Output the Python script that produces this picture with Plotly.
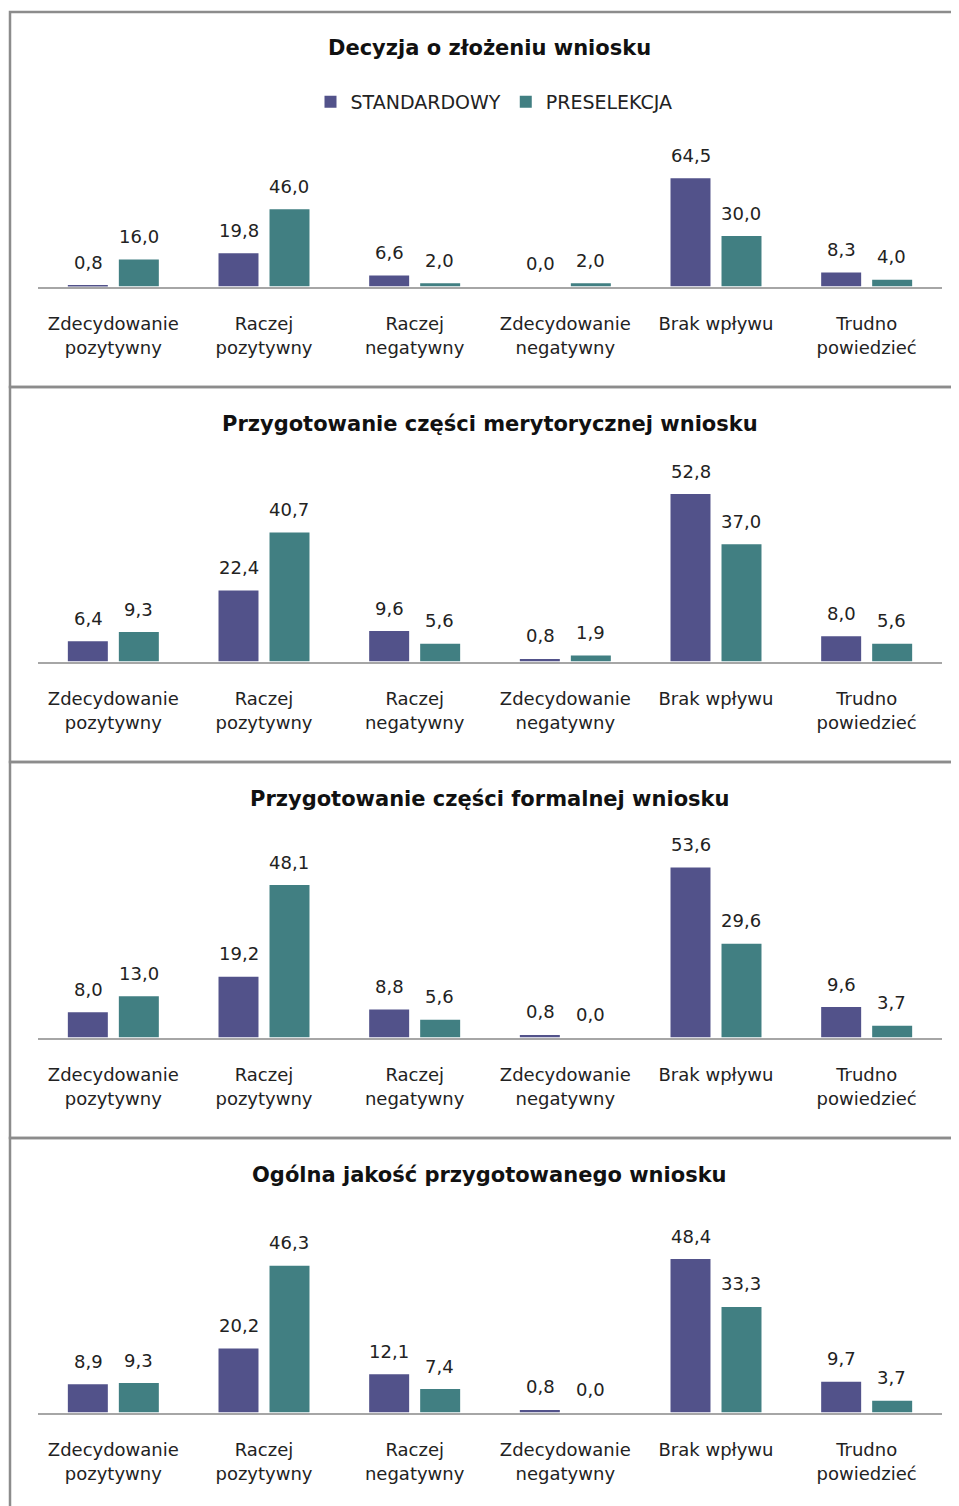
import plotly.graph_objects as go

categories = ["Zdecydowanie<br>pozytywny", "Raczej<br>pozytywny", "Raczej<br>negatywny",
              "Zdecydowanie<br>negatywny", "Brak wpływu", "Trudno<br>powiedzieć"]
series_names = ["STANDARDOWY", "PRESELEKCJA"]
panel_titles = ["Decyzja o złożeniu wniosku",
                "Przygotowanie części merytorycznej wniosku",
                "Przygotowanie części formalnej wniosku",
                "Ogólna jakość przygotowanego wniosku"]
standard_1 = [0.8, 19.8, 6.6, 0.0, 64.5, 8.3]
preselekcja_1 = [16.0, 46.0, 2.0, 2.0, 30.0, 4.0]
standard_2 = [6.4, 22.4, 9.6, 0.8, 52.8, 8.0]
preselekcja_2 = [9.3, 40.7, 5.6, 1.9, 37.0, 5.6]
standard_3 = [8.0, 19.2, 8.8, 0.8, 53.6, 9.6]
preselekcja_3 = [13.0, 48.1, 5.6, 0.0, 29.6, 3.7]
standard_4 = [8.9, 20.2, 12.1, 0.8, 48.4, 9.7]
preselekcja_4 = [9.3, 46.3, 7.4, 0.0, 33.3, 3.7]
y_max = [70, 60, 60, 60]

panels = [(standard_1, preselekcja_1), (standard_2, preselekcja_2),
          (standard_3, preselekcja_3), (standard_4, preselekcja_4)]
colors = ["#52528a", "#417f82"]

OFF = 8  # page body margin
W, H = 959 - OFF, 1506 - OFF
FONT = "DejaVu Sans"

def px(x):
    return (x - OFF) / W

def py(y):
    return 1 - (y - OFF) / H

# layout geometry (page pixels)
baselines = [286.5, 661.5, 1037.5, 1412.5]
scales = [1.68, 3.17, 3.17, 3.17]
title_y = [48, 424, 799, 1175]
box_tops = [12, 387, 762, 1138, 1509]

fig = go.Figure()
layout = dict(
    width=W, height=H, margin=dict(l=0, r=0, t=0, b=0),
    paper_bgcolor="white", plot_bgcolor="white",
    barmode="group", bargap=0.323, bargroupgap=0.216,
    showlegend=True,
    legend=dict(orientation="h", x=px(494), xanchor="center", y=py(102), yanchor="middle",
                font=dict(family=FONT, size=19, color="#222222"), itemwidth=30,
                bgcolor="rgba(0,0,0,0)"),
    font=dict(family=FONT, size=18, color="#222222"),
)
annotations = []
shapes = []

for i, (std, pre) in enumerate(panels):
    n = "" if i == 0 else str(i + 1)
    xa, ya = "x" + n, "y" + n
    for s, (vals, name) in enumerate(zip((std, pre), series_names)):
        fig.add_trace(go.Bar(
            x=categories, y=vals, name=name, marker=dict(color=colors[s], line=dict(width=0)),
            xaxis=xa, yaxis=ya, showlegend=(i == 0), legendgroup=name, hoverinfo="skip"))
        for c, v in zip(categories, vals):
            annotations.append(dict(
                x=c, y=v, xref=xa, yref=ya, text=f"{v:.1f}".replace(".", ","),
                showarrow=False, xshift=(-25.3 if s == 0 else 25.3), yshift=23,
                yanchor="middle", font=dict(family=FONT, size=18, color="#222222")))
    b = baselines[i]
    top = b - y_max[i] * scales[i]
    layout["xaxis" + n] = dict(
        domain=[px(38), px(942)], anchor=ya, type="category",
        showline=True, linecolor="#a6a6a6", linewidth=2, showgrid=False, zeroline=False,
        ticks="", ticklabelstandoff=20, tickfont=dict(family=FONT, size=18, color="#222222"),
        fixedrange=True)
    layout["yaxis" + n] = dict(
        domain=[py(b), py(top)], anchor=xa, range=[0, y_max[i]], visible=False,
        showgrid=False, zeroline=False, fixedrange=True)
    annotations.append(dict(
        x=px(490), y=py(title_y[i]), xref="paper", yref="paper", text="<b>" + panel_titles[i] + "</b>",
        showarrow=False, xanchor="center", yanchor="middle",
        font=dict(family=FONT, size=21, color="#111111")))
    shapes.append(dict(type="rect", xref="paper", yref="paper",
                       x0=px(10), x1=1.05, y0=py(box_tops[i + 1]), y1=py(box_tops[i]),
                       line=dict(color="#8c8c8c", width=2.5), fillcolor="rgba(0,0,0,0)", layer="below"))

layout["annotations"] = annotations
layout["shapes"] = shapes
fig.update_layout(**layout)
fig.write_html("out.html")
